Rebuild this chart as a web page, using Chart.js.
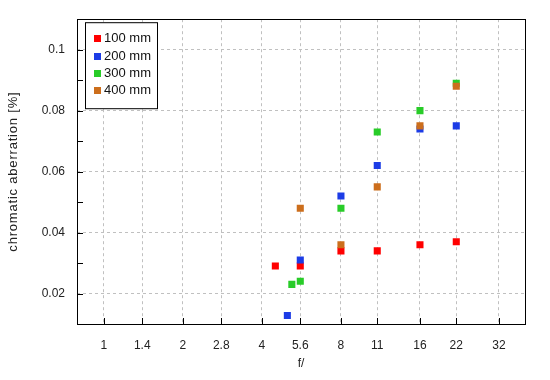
<!DOCTYPE html>
<html>
<head>
<meta charset="utf-8">
<script src="https://cdn.jsdelivr.net/npm/chart.js@4.4.1/dist/chart.umd.min.js"></script>
<style>
  body { margin: 0; background: #fff; }
</style>
</head>
<body>
<canvas id="caChart" width="550" height="380"></canvas>
<script>
// series
const seriesNames = ['100 mm', '200 mm', '300 mm', '400 mm'];
const seriesColors = ['#ff0000', '#1c3ce6', '#28cc28', '#cc6e1c'];

// aperture (f/) and chromatic aberration [%] per focal length
const ap100 = [4.5, 5.6, 8, 11, 16, 22];
const ca100 = [0.029, 0.029, 0.034, 0.034, 0.036, 0.037];
const ap200 = [5.0, 5.6, 8, 11, 16, 22];
const ca200 = [0.0128, 0.031, 0.052, 0.062, 0.074, 0.075];
const ap300 = [5.2, 5.6, 8, 11, 16, 22];
const ca300 = [0.023, 0.024, 0.048, 0.073, 0.080, 0.089];
const ap400 = [5.6, 8, 11, 16, 22];
const ca400 = [0.048, 0.036, 0.055, 0.075, 0.088];

// tick labels
const fStops = [1, 1.4, 2, 2.8, 4, 5.6, 8, 11, 16, 22, 32];
const yTicks = [0.02, 0.04, 0.06, 0.08, 0.1];
const yTitle = 'chromatic aberration [%]';

const apertures = [ap100, ap200, ap300, ap400];
const values = [ca100, ca200, ca300, ca400];

Chart.defaults.font.family = '"Liberation Sans", Arial, sans-serif';
Chart.defaults.font.size = 12;
Chart.defaults.color = '#222';

// frame, inward ticks, y title and boxed legend
const framePlugin = {
  id: 'frame',
  afterDatasetsDraw(chart) {
    const ctx = chart.ctx;
    const a = chart.chartArea;
    const xs = chart.scales.x, ys = chart.scales.y;
    ctx.save();
    ctx.strokeStyle = '#000';
    ctx.lineWidth = 1;
    ctx.beginPath();
    fStops.forEach(v => {
      const px = Math.round(xs.getPixelForValue(v)) + 0.5;
      ctx.moveTo(px, a.bottom);
      ctx.lineTo(px, a.bottom - 6);
    });
    for (let k = 2; k <= 10; k++) {
      const py = Math.round(ys.getPixelForValue(k / 100)) + 0.5;
      ctx.moveTo(a.left, py);
      ctx.lineTo(a.left + 6, py);
    }
    ctx.stroke();
    ctx.strokeRect(Math.round(a.left) + 0.5, Math.round(a.top) + 0.5,
      Math.round(a.right - a.left), Math.round(a.bottom - a.top));

    // y axis title
    ctx.save();
    ctx.translate(13, (a.top + a.bottom) / 2);
    ctx.rotate(-Math.PI / 2);
    ctx.font = '13px "Liberation Sans", Arial, sans-serif';
    ctx.letterSpacing = '0.8px';
    ctx.fillStyle = '#222';
    ctx.textAlign = 'center';
    ctx.textBaseline = 'middle';
    ctx.fillText(yTitle, 0, 0);
    ctx.restore();

    // legend
    const lx = a.left + 8, ly = a.top + 3;
    ctx.fillStyle = '#fff';
    ctx.fillRect(lx, ly, 72, 86);
    ctx.strokeRect(lx + 0.5, ly + 0.5, 72, 86);
    ctx.font = '13px "Liberation Sans", Arial, sans-serif';
    ctx.textBaseline = 'middle';
    seriesNames.forEach((name, i) => {
      const cy = ly + 16.5 + i * 17.3;
      ctx.fillStyle = seriesColors[i];
      ctx.fillRect(lx + 9, Math.round(cy - 3.5), 7, 7);
      ctx.fillStyle = '#111';
      ctx.fillText(name, lx + 19, cy);
    });
    ctx.restore();
  }
};

new Chart(document.getElementById('caChart'), {
  type: 'scatter',
  data: {
    datasets: seriesNames.map((name, i) => ({
      label: name,
      data: apertures[i].map((f, j) => ({ x: f, y: values[i][j] })),
      backgroundColor: seriesColors[i],
      borderColor: seriesColors[i],
      pointStyle: 'rect',
      pointRadius: 5,
      pointHoverRadius: 5,
      pointBorderWidth: 0,
      order: 4 - i
    }))
  },
  options: {
    responsive: false,
    animation: false,
    layout: { padding: { top: 16, right: 25, left: 0, bottom: 0 } },
    plugins: {
      legend: { display: false },
      tooltip: { enabled: false }
    },
    scales: {
      x: {
        type: 'logarithmic',
        min: 0.79,
        max: 40.2,
        afterBuildTicks: s => { s.ticks = fStops.map(v => ({ value: v })); },
        afterFit: s => { s.height = 56; },
        ticks: {
          autoSkip: false,
          maxRotation: 0,
          padding: 14,
          callback: (v, i) => String(fStops[i])
        },
        grid: { color: '#c0c0c0', drawTicks: false },
        border: { display: false, dash: [3, 3] },
        title: { display: true, text: 'f/', padding: { top: 4, bottom: 9 } }
      },
      y: {
        min: 0.01,
        max: 0.11,
        afterBuildTicks: s => { s.ticks = yTicks.map(v => ({ value: v })); },
        afterFit: s => { s.width = 77; },
        ticks: {
          padding: 12,
          callback: (v, i) => String(yTicks[i])
        },
        grid: { color: '#c0c0c0', drawTicks: false },
        border: { display: false, dash: [3, 3] }
      }
    }
  },
  plugins: [framePlugin]
});
</script>
</body>
</html>
